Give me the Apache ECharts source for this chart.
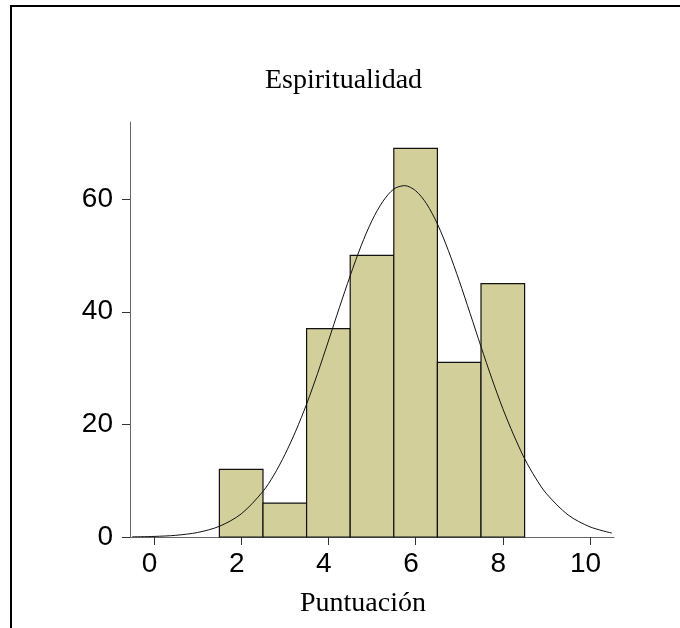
<!DOCTYPE html>
<html>
<head>
<meta charset="utf-8">
<script src="https://cdn.jsdelivr.net/npm/echarts@6/dist/echarts.min.js"></script>
<style>
  html, body { margin: 0; padding: 0; background: #fff; }
  #main { width: 680px; height: 628px; }
</style>
</head>
<body>
<div id="main"></div>
<script>
// histogram bins (left/right edges) and counts
const binStart = [1.5, 2.5, 3.5, 4.5, 5.5, 6.5, 7.5];
const binEnd = [2.5, 3.5, 4.5, 5.5, 6.5, 7.5, 8.5];
const counts = [12, 6, 37, 50, 69, 31, 45];

// fitted normal curve
const curveX = [-0.5, 0, 0.5, 1, 1.5, 2, 2.5, 2.75, 3, 3.25, 3.5, 3.75, 4, 4.25, 4.5, 4.75, 5, 5.25, 5.5, 5.75,
  6, 6.25, 6.5, 6.75, 7, 7.25, 7.5, 7.75, 8, 8.25, 8.5, 8.75, 9, 9.5, 10, 10.5];
const curveY = [0.03, 0.1, 0.3, 0.8, 1.9, 4.1, 8.1, 11.0, 14.6, 18.8, 23.6, 29.0, 34.8, 40.7, 46.4, 51.7, 56.2, 59.6, 61.8, 62.4,
  61.5, 59.2, 55.6, 50.9, 45.5, 39.7, 33.8, 28.1, 22.8, 18.1, 13.9, 10.5, 7.7, 3.9, 1.8, 0.7];

const xTicks = [0, 2, 4, 6, 8, 10];
const yTicks = [0, 20, 40, 60];

const chart = echarts.init(document.getElementById("main"));

const barData = binStart.map((s, i) => [s, binEnd[i], counts[i]]);
const lineData = curveX.map((x, i) => [x, curveY[i]]);

const option = {
  animation: false,
  backgroundColor: "#fff",
  title: {
    text: "Espiritualidad",
    left: 265,
    top: 67,
    padding: 0,
    textStyle: {
      fontFamily: "Liberation Serif",
      fontSize: 28,
      fontWeight: "normal",
      color: "#000",
    },
  },
  graphic: [
    {
      type: "rect",
      shape: { x: 11, y: 6, width: 700, height: 700 },
      style: { fill: "none", stroke: "#000", lineWidth: 2 },
      silent: true,
    },
  ],
  grid: { left: 130, right: 66, top: 122, bottom: 91 },
  xAxis: {
    type: "value",
    min: -0.55,
    max: 10.55,
    name: "Puntuación",
    nameLocation: "middle",
    nameGap: 53,
    nameTextStyle: {
      fontFamily: "Liberation Serif",
      fontSize: 28,
      color: "#000",
      padding: [0, 18, 0, 0],
    },
    axisLine: { onZero: false, lineStyle: { color: "#666", width: 1 } },
    axisTick: { customValues: xTicks, length: 8, lineStyle: { color: "#333" } },
    axisLabel: {
      customValues: xTicks,
      fontFamily: "Liberation Sans",
      fontSize: 28,
      color: "#000",
      margin: 13,
      padding: [0, 9, 0, 0],
    },
    splitLine: { show: false },
  },
  yAxis: {
    type: "value",
    min: 0,
    max: 73.7,
    axisLine: { show: true, onZero: false, lineStyle: { color: "#666", width: 1 } },
    axisTick: { show: true, customValues: yTicks, length: 8, lineStyle: { color: "#333" } },
    axisLabel: {
      customValues: yTicks,
      fontFamily: "Liberation Sans",
      fontSize: 28,
      color: "#000",
      margin: 17,
      padding: [8, 0, 0, 0],
    },
    splitLine: { show: false },
  },
  series: [
    {
      type: "custom",
      data: barData,
      encode: { x: [0, 1], y: 2 },
      renderItem: function (params, api) {
        const p0 = api.coord([api.value(0), api.value(2)]);
        const p1 = api.coord([api.value(1), 0]);
        return {
          type: "rect",
          shape: { x: p0[0], y: p0[1], width: p1[0] - p0[0], height: p1[1] - p0[1] },
          style: { fill: "#d3cf9a", stroke: "#111", lineWidth: 1.2 },
        };
      },
      z: 2,
    },
    {
      type: "line",
      data: lineData,
      smooth: 0.3,
      showSymbol: false,
      lineStyle: { color: "#111", width: 1 },
      z: 3,
    },
  ],
};

chart.setOption(option);
</script>
</body>
</html>
